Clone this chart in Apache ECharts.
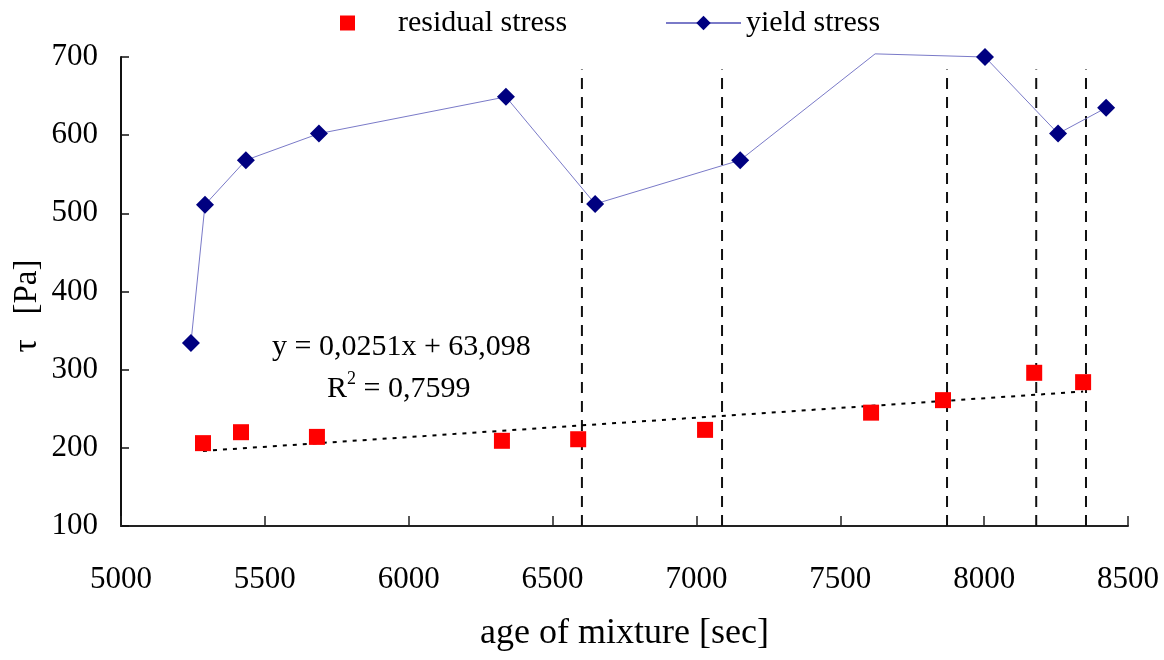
<!DOCTYPE html>
<html>
<head>
<meta charset="utf-8">
<script src="https://cdn.jsdelivr.net/npm/echarts@6/dist/echarts.min.js"></script>
<style>html,body{margin:0;padding:0;background:#fff}#c{width:1164px;height:660px}</style>
</head>
<body>
<div id="c"></div>
<script>
// ---- data ----
const yieldX = [5243, 5292, 5434, 5688, 6338, 6648, 7152, 7621, 8003, 8257, 8424];
const yieldY = [334, 511, 568, 602, 649, 512, 568, 704, 700, 602, 635];
const yieldMarker = [true, true, true, true, true, true, true, false, true, true, true];
const residX = [5285, 5417, 5681, 6324, 6589, 7030, 7607, 7857, 8174, 8344];
const residY = [206, 220, 214, 209, 211, 223, 245, 261, 296, 284];
const trendX = [5285, 8344];
const trendY = [196, 272];
const dashX = [6602, 7089, 7871, 8181, 8354];
const dashRange = [100, 684];
const xTicks = [5000, 8500, 500];
const yTicks = [100, 700, 100];
const equationText = 'y = 0,0251x + 63,098';
const r2Text = '0,7599';

const FONT = '"Liberation Serif", "DejaVu Serif", serif';

const yieldData = yieldX.map((x, i) => ({
  value: [x, yieldY[i]],
  symbolSize: yieldMarker[i] ? 18 : 0
}));
const residData = residX.map((x, i) => [x, residY[i]]);
const trendData = trendX.map((x, i) => [x, trendY[i]]);

const dashSeries = dashX.map(x => ({
  type: 'line',
  data: [[x, dashRange[0]], [x, dashRange[1]]],
  symbol: 'none',
  silent: true,
  z: 1,
  lineStyle: { color: '#111', width: 2, type: [11, 8] }
}));

const chart = echarts.init(document.getElementById('c'), null, { renderer: 'canvas' });
chart.setOption({
  animation: false,
  backgroundColor: '#fff',
  grid: { left: 121, right: 36, top: 57, bottom: 134, containLabel: false },
  legend: [
    {
      data: ['residual stress'],
      left: 335, top: 3,
      itemWidth: 15, itemHeight: 15,
      icon: 'rect',
      itemStyle: { opacity: 1 },
      textStyle: { fontFamily: FONT, fontSize: 30, color: '#000', padding: [0, 0, 0, 38] }
    },
    {
      data: ['yield stress'],
      left: 660, top: 3,
      itemWidth: 75, itemHeight: 18,
      textStyle: { fontFamily: FONT, fontSize: 30, color: '#000', padding: [0, 0, 0, 0] }
    }
  ],
  xAxis: {
    type: 'value',
    min: xTicks[0], max: xTicks[1], interval: xTicks[2],
    name: 'age of mixture [sec]',
    nameLocation: 'middle', nameGap: 90,
    nameTextStyle: { fontFamily: FONT, fontSize: 36, color: '#000' },
    axisLine: { lineStyle: { color: '#222', width: 2 } },
    axisTick: { inside: true, length: 10, lineStyle: { color: '#222', width: 1.5 } },
    axisLabel: { margin: 38, fontFamily: FONT, fontSize: 31, color: '#000', formatter: v => String(v) },
    splitLine: { show: false }
  },
  yAxis: {
    type: 'value',
    min: yTicks[0], max: yTicks[1], interval: yTicks[2],
    axisLine: { show: true, lineStyle: { color: '#111', width: 2 } },
    axisTick: { show: true, inside: true, length: 8, lineStyle: { color: '#111', width: 1.5 } },
    axisLabel: { margin: 23, fontFamily: FONT, fontSize: 31, color: '#000', formatter: v => String(v) },
    splitLine: { show: false }
  },
  series: [
    ...dashSeries,
    {
      name: 'trend',
      type: 'line',
      data: trendData,
      symbol: 'none',
      silent: true,
      z: 2,
      lineStyle: { color: '#000', width: 2, type: [4, 6] }
    },
    {
      name: 'yield stress',
      type: 'line',
      data: yieldData,
      symbol: 'diamond',
      symbolSize: 18,
      clip: false,
      z: 3,
      itemStyle: { color: '#000080' },
      lineStyle: { color: '#7a7ac8', width: 1 }
    },
    {
      name: 'residual stress',
      type: 'scatter',
      data: residData,
      symbol: 'rect',
      symbolSize: 16,
      z: 4,
      itemStyle: { color: '#ff0000', opacity: 1 }
    }
  ],
  graphic: [
    {
      type: 'text', x: 27, y: 306, rotation: Math.PI / 2,
      style: { text: 'τ   [Pa]', fontFamily: FONT, fontSize: 33, fill: '#000', align: 'center', verticalAlign: 'middle' }
    },
    {
      type: 'text', left: 272, top: 332,
      style: { text: equationText, fontFamily: FONT, fontSize: 30, fill: '#000' }
    },
    {
      type: 'text', left: 327, top: 370,
      style: {
        text: '{b|R}{s|2}{b| = ' + r2Text + '}',
        rich: {
          b: { fontFamily: FONT, fontSize: 30, fill: '#000', verticalAlign: 'bottom' },
          s: { fontFamily: FONT, fontSize: 18, fill: '#000', verticalAlign: 'top', padding: [0, 0, 16, 0] }
        }
      }
    }
  ]
});
</script>
</body>
</html>
